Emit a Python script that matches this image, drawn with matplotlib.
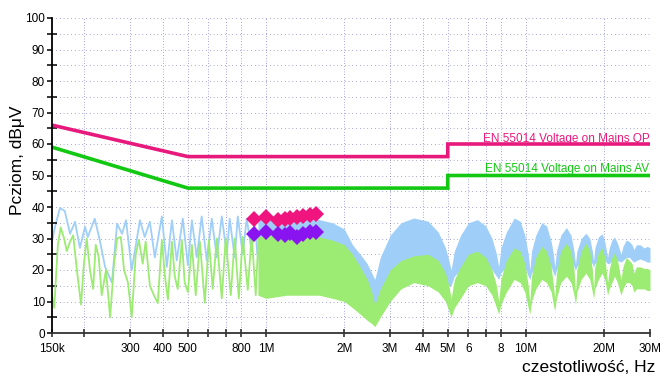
import matplotlib
matplotlib.use('Agg')
import matplotlib.pyplot as plt
from matplotlib.ticker import FixedLocator, NullFormatter

plt.rcParams['font.family'] = ['Liberation Sans', 'DejaVu Sans']

# ---------------- data ----------------
# limit lines (frequency in MHz, level in dBuV)
limit_f = [0.15, 0.5, 5.0, 5.0, 30.0]
qp_limit = [66, 56, 56, 60, 60]
av_limit = [59, 46, 46, 50, 50]

# low-frequency part of the peak (blue) scan, frequency in kHz
pk_lo_f = [150, 154, 161, 168, 176, 184, 192, 201, 206, 219, 229, 240, 255, 267,
           279, 289, 304, 327, 341, 357, 373, 397, 415, 434, 453, 478, 500, 518,
           541, 565, 591, 618, 646, 675, 706, 724, 757, 778, 813, 842, 880, 904, 925]
pk_lo_v = [29, 33.7, 39.7, 38.7, 31.5, 35.3, 27, 33.7, 30.5, 36.3, 29.5, 21, 16, 34.7,
           31.5, 35.8, 20, 35.8, 30.5, 35.3, 24, 37, 21, 35.8, 23, 36.3, 21.5, 35.8,
           24, 37, 23, 36.3, 24, 37, 25, 36.3, 24, 37, 25, 36.3, 26, 35.8, 25]

# low-frequency part of the average (green) scan, frequency in kHz
av_lo_f = [150, 153, 158, 162, 167, 171, 176, 181, 187, 194, 199, 204, 210, 216,
           221, 227, 233, 242, 251, 260, 267, 276, 284, 294, 304, 315, 324, 335,
           344, 357, 370, 383, 397, 408, 419, 434, 445, 457, 474, 486, 500, 518,
           536, 556, 581, 602, 623, 646, 675, 699, 731, 757, 785, 813, 850, 880,
           912, 935]
av_lo_v = [12, 8, 28, 33.5, 30, 26, 29, 31, 20, 9, 22, 30, 20, 14,
           28, 24, 12, 20, 5, 22, 30, 30.5, 20, 16, 5, 25, 29.5, 22,
           29, 15, 12, 9.5, 29.5, 18, 10.6, 29, 18, 14, 29.5, 16, 13, 28,
           12, 29, 9.6, 29.5, 14, 30, 11, 30, 12, 30, 11, 30.5, 13.7, 31,
           12, 31]

# high-frequency part: band envelopes, frequency in MHz
hi_f = [0.93, 1.0, 1.2, 1.4, 1.6, 1.8, 2.0, 2.15, 2.3, 2.45, 2.55, 2.62,
        2.75, 3.0, 3.3, 3.7, 4.2, 4.6, 4.9, 5.05, 5.15,
        5.3, 5.6, 6.0, 6.5, 7.0, 7.4, 7.7, 7.85,
        8.0, 8.4, 9.0, 9.5, 9.9, 10.2, 10.35,
        10.5, 10.9, 11.5, 12.0, 12.5, 12.75, 12.9,
        13.1, 13.6, 14.3, 14.9, 15.3, 15.5,
        15.7, 16.3, 17.0, 17.6, 18.0, 18.2,
        18.4, 19.0, 19.6, 20.1, 20.6,
        20.9, 21.4, 21.9, 22.5, 23.2,
        23.6, 24.3, 25.0, 25.6, 26.0,
        26.6, 27.5, 28.5, 29.3, 30.0]
pk_top = [37, 37, 37, 36.5, 36, 35, 33, 28, 25, 22, 19, 17,
          24, 31, 35, 36.5, 35.5, 32, 27, 23, 20,
          26, 31, 35, 36, 34, 30, 25, 21,
          27, 32, 36.5, 35.5, 31, 25, 20,
          26, 31, 35, 34, 29, 25, 21,
          26, 31, 33.5, 31, 26, 22,
          26, 30, 31.7, 30, 26, 23,
          27, 30.5, 31.5, 29, 24,
          27, 29.5, 30.5, 28.5, 25,
          27.5, 29.5, 29, 28, 26.5,
          28, 28, 27, 27.5, 27]
pk_bot = [23, 21, 20, 20, 19, 18, 17, 15, 12, 9, 7, 6,
          12, 18, 22, 24, 23, 20, 16, 15, 15,
          18, 20, 23, 24, 23, 20, 18, 17,
          19, 21, 25, 24, 21, 18, 17,
          19, 21, 24, 23, 21, 19, 18,
          20, 22, 24, 23, 21, 20,
          21, 23, 24, 23, 22, 21,
          22, 23, 24, 23, 22,
          22, 23, 24, 23, 22.5,
          23, 24, 24, 23, 22.5,
          23, 23.5, 23, 22.5, 22.5]
av_top = [30.5, 31, 31, 31, 30.5, 29.5, 28, 25, 21, 17, 13, 9,
          14, 20, 23, 24.5, 25, 23, 19, 15, 11,
          17, 21, 25, 26, 24, 20, 15, 10,
          17, 23, 27, 26, 22, 15, 10,
          18, 24, 27.5, 26, 21, 15, 11,
          19, 26, 28.5, 26, 20, 13,
          20, 26, 28.5, 26, 20, 14,
          21, 25.5, 27, 24, 16,
          20, 24, 25.5, 23, 17,
          21, 24, 23, 22, 19,
          21, 21, 20.5, 20.5, 20]
av_bot = [12, 11, 12, 12, 12, 11, 10, 8, 6, 4, 3, 2,
          5, 10, 14, 16, 15, 13, 10, 7, 5,
          8, 11, 15, 16, 15, 12, 8, 6,
          9, 13, 17, 16, 13, 8, 6,
          10, 14, 17, 16, 13, 9, 7,
          11, 16, 18, 16, 12, 9,
          13, 17, 19, 17, 13, 11,
          14, 17, 19, 17, 12,
          14, 16, 18, 16, 12,
          14, 16, 16, 15, 13,
          14, 14, 14, 13.5, 13.5]

# final measurements (frequency in kHz)
meas_f = [895, 996, 1108, 1180, 1240, 1320, 1390, 1480, 1560]
meas_qp = [36.3, 36.8, 36.0, 36.3, 36.5, 36.8, 37.0, 37.6, 37.8]
meas_av = [31.5, 32.0, 31.5, 31.0, 31.8, 30.5, 31.5, 32.0, 32.0]

# axis ticks
x_ticks_hz = [150e3, 200e3, 300e3, 400e3, 500e3, 600e3, 700e3, 800e3, 1e6,
              2e6, 3e6, 4e6, 5e6, 6e6, 7e6, 8e6, 10e6, 20e6, 30e6]
x_tick_labels = ['150k', '', '300', '400', '500', '', '', '800', '1M',
                 '2M', '3M', '4M', '5M', '6', '', '8', '10M', '20M', '30M']
y_major = list(range(0, 101, 10))
y_minor = list(range(5, 100, 10))

qp_label = 'EN 55014 Voltage on Mains QP'
av_label = 'EN 55014 Voltage on Mains AV'
y_title = 'Pcziom, dBμV'
x_title = 'czestotliwość, Hz'

# ---------------- styling ----------------
C_PK = '#9fcff8'
C_AV = '#9ceb72'
C_QP = '#e8197d'
C_AVL = '#12c812'
C_QPM = '#f0147f'
C_AVM = '#8a14f0'
C_GRID = '#3a3ac0'

W, H = 662, 376
fig = plt.figure(figsize=(W / 100, H / 100), dpi=100)
ax = fig.add_axes([52 / W, 43 / H, 598 / W, 315 / H])
ax.set_xscale('log')
ax.set_xlim(150e3, 30e6)
ax.set_ylim(0, 100)

hz_hi = [f * 1e6 for f in hi_f]

# traces
ax.plot([f * 1e3 for f in pk_lo_f], pk_lo_v, color=C_PK, lw=1.3, zorder=1)
ax.fill_between(hz_hi, pk_bot, pk_top, color=C_PK, lw=0, zorder=1)
ax.plot([f * 1e3 for f in av_lo_f], av_lo_v, color=C_AV, lw=1.3, zorder=2)
ax.fill_between(hz_hi, av_bot, av_top, color=C_AV, lw=0, zorder=2)

# limit lines
lf = [f * 1e6 for f in limit_f]
ax.plot(lf, qp_limit, color=C_QP, lw=2.6, zorder=3, solid_joinstyle='miter')
ax.plot(lf, av_limit, color=C_AVL, lw=2.6, zorder=3, solid_joinstyle='miter')
ax.text(29.9e6, 60.5, qp_label, color=C_QP, fontsize=8.5, ha='right', va='baseline', zorder=5)
ax.text(29.9e6, 51.2, av_label, color=C_AVL, fontsize=8.5, ha='right', va='baseline', zorder=5)

# measurement markers
mf = [f * 1e3 for f in meas_f]
ax.plot(mf, meas_qp, 'D', color=C_QPM, ms=8.5, mew=0, zorder=4, clip_on=False)
ax.plot(mf, meas_av, 'D', color=C_AVM, ms=8.5, mew=0, zorder=4, clip_on=False)

# ticks
ax.xaxis.set_major_locator(FixedLocator(x_ticks_hz))
ax.xaxis.set_minor_locator(FixedLocator([]))
ax.set_xticklabels(x_tick_labels)
ax.yaxis.set_major_locator(FixedLocator(y_major))
ax.yaxis.set_minor_locator(FixedLocator(y_minor))
ax.yaxis.set_minor_formatter(NullFormatter())
ax.tick_params(axis='x', which='major', direction='inout', length=6, width=1.1,
               color='#222222', labelsize=8.5, pad=4)
ax.tick_params(axis='y', which='major', direction='out', length=3.5, width=1.1,
               color='black', labelsize=8.5, pad=1.5)
ax.tick_params(axis='y', which='minor', direction='inout', length=7.5, width=1.1,
               color='black')

# grid
for f in x_ticks_hz[1:]:
    ax.axvline(f, color=C_GRID, lw=0.6, ls=(0, (0.7, 2.6)), alpha=0.85, zorder=0.5)
for v in list(range(5, 101, 5)):
    ax.axhline(v, color=C_GRID, lw=0.6, ls=(0, (0.7, 3.8)), alpha=0.85, zorder=0.5)

for s in ['top', 'right']:
    ax.spines[s].set_visible(False)
ax.spines['left'].set_linewidth(1.3)
ax.spines['left'].set_color('black')
ax.spines['bottom'].set_linewidth(1.3)
ax.spines['bottom'].set_color('#333333')
ax.spines['left'].set_zorder(6)
ax.spines['bottom'].set_zorder(6)

fig.text(18 / W, 1 - 160 / H, y_title, rotation=90, ha='center', va='center', fontsize=12.5)
fig.text(655 / W, 1 - 372 / H, x_title, ha='right', va='baseline', fontsize=12.5)

fig.savefig('out.png', dpi=100)
